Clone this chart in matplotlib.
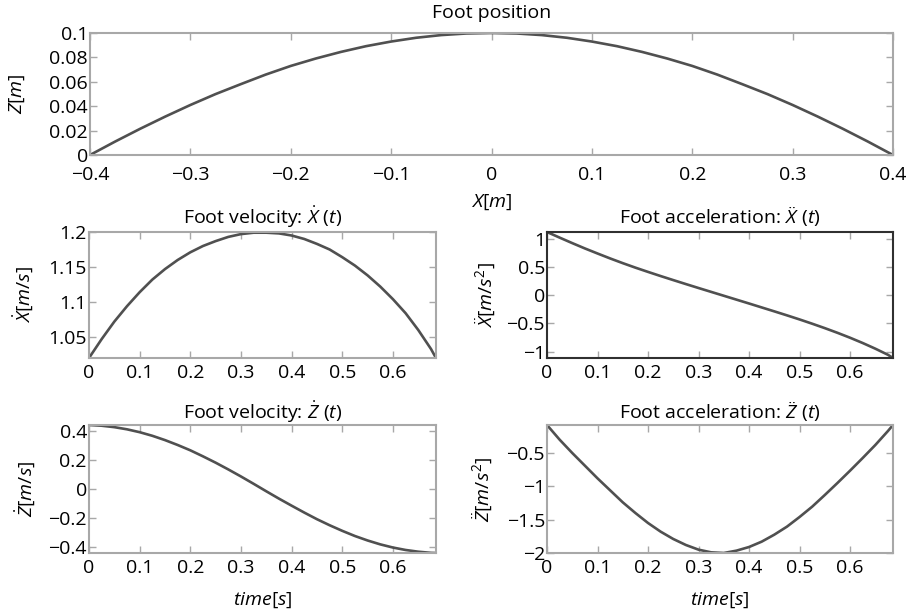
import matplotlib
matplotlib.use("Agg")
import matplotlib.pyplot as plt
from matplotlib.ticker import FuncFormatter

plt.rcParams['font.family'] = ['Open Sans', 'DejaVu Sans']
plt.rcParams['mathtext.fontset'] = 'custom'
plt.rcParams['mathtext.rm'] = 'Open Sans'
plt.rcParams['mathtext.it'] = 'Open Sans:italic'
plt.rcParams['mathtext.bf'] = 'Open Sans:bold'

# ---- data ----
pos_x = [-0.4, -0.375, -0.35, -0.325, -0.3, -0.275, -0.25, -0.225, -0.2, -0.175, -0.15,
         -0.125, -0.1, -0.075, -0.05, -0.025, 0.0, 0.025, 0.05, 0.075, 0.1, 0.125, 0.15,
         0.175, 0.2, 0.225, 0.25, 0.275, 0.3, 0.325, 0.35, 0.375, 0.4]
pos_z = [0.0, 0.011, 0.0215, 0.0315, 0.041, 0.0499, 0.058, 0.0659, 0.073, 0.0791, 0.0845,
         0.0892, 0.093, 0.0961, 0.0983, 0.0996, 0.1, 0.0996, 0.0983, 0.0961, 0.093, 0.0892, 0.0845,
         0.0791, 0.073, 0.0659, 0.058, 0.0499, 0.041, 0.0315, 0.0215, 0.011, 0.0]

time = [0, 0.025, 0.05, 0.075, 0.1, 0.125, 0.15, 0.175, 0.2, 0.225, 0.25, 0.275, 0.3,
        0.325, 0.35, 0.375, 0.4, 0.425, 0.45, 0.475, 0.5, 0.525, 0.55, 0.575, 0.6, 0.625,
        0.65, 0.675, 0.685]
x_vel = [1.020, 1.047, 1.072, 1.094, 1.114, 1.132, 1.147, 1.160, 1.171, 1.180, 1.187,
         1.193, 1.197, 1.199, 1.199, 1.198, 1.195, 1.190, 1.183, 1.175, 1.164, 1.152,
         1.138, 1.122, 1.104, 1.084, 1.060, 1.033, 1.020]
x_acc = [1.13, 1.03, 0.932, 0.837, 0.747, 0.659, 0.575, 0.495, 0.419, 0.345, 0.273,
         0.202, 0.132, 0.063, -0.006, -0.075, -0.144, -0.214, -0.284, -0.355, -0.428,
         -0.504, -0.583, -0.666, -0.754, -0.848, -0.949, -1.058, -1.115]
z_vel = [0.445, 0.440, 0.430, 0.415, 0.395, 0.370, 0.340, 0.306, 0.269, 0.227, 0.183,
         0.136, 0.087, 0.036, -0.016, -0.067, -0.116, -0.164, -0.210, -0.252, -0.291,
         -0.327, -0.358, -0.385, -0.407, -0.424, -0.436, -0.444, -0.445]
z_acc = [-0.08, -0.30, -0.50, -0.69, -0.88, -1.06, -1.24, -1.40, -1.55, -1.68, -1.79,
         -1.88, -1.95, -1.99, -2.0, -1.965, -1.91, -1.83, -1.725, -1.605, -1.46, -1.305,
         -1.13, -0.95, -0.765, -0.575, -0.38, -0.17, -0.08]

pos_xticks = [-0.4, -0.3, -0.2, -0.1, 0, 0.1, 0.2, 0.3, 0.4]
pos_yticks = [0, 0.02, 0.04, 0.06, 0.08, 0.1]
t_ticks = [0, 0.1, 0.2, 0.3, 0.4, 0.5, 0.6]
xvel_ticks = [1.05, 1.1, 1.15, 1.2]
xacc_ticks = [-1, -0.5, 0, 0.5, 1]
zvel_ticks = [-0.4, -0.2, 0, 0.2, 0.4]
zacc_ticks = [-2, -1.5, -1, -0.5]

LINE = '#505050'
SPINE = '#a8a8a8'
FS = 14

fmt = FuncFormatter(lambda v, p: ('%g' % round(v, 6)).replace('-', '\u2212'))

W, H = 908, 614
fig = plt.figure(figsize=(W / 100, H / 100), dpi=100)

def box(l, r, t, b):
    return [l / W, 1 - b / H, (r - l) / W, (b - t) / H]

def style(ax, spine_color=SPINE, xpad=4):
    for s in ax.spines.values():
        s.set_color(spine_color)
        s.set_linewidth(1.5)
    ax.tick_params(direction='in', top=True, right=True, length=5, width=1,
                   color=SPINE, labelsize=FS)
    ax.tick_params(axis='x', pad=xpad)
    ax.tick_params(axis='y', pad=1.5)
    ax.xaxis.set_major_formatter(fmt)
    ax.yaxis.set_major_formatter(fmt)

def title(ax, text, y):
    ax.set_title(text, fontsize=FS, y=y, pad=0, va='center')

def ylab(ax, text, x):
    ax.set_ylabel(text, fontsize=FS)
    ax.yaxis.set_label_coords(x, 0.5)
    ax.yaxis.label.set_verticalalignment('center')

def xlab(ax, text, y):
    ax.set_xlabel(text, fontsize=FS)
    ax.xaxis.set_label_coords(0.5, y)
    ax.xaxis.label.set_verticalalignment('center')

ax0 = fig.add_axes(box(90, 893, 33, 155))
ax0.plot(pos_x, pos_z, color=LINE, lw=1.9)
ax0.set_xlim(pos_x[0], pos_x[-1])
ax0.set_ylim(0, 0.1)
ax0.set_xticks(pos_xticks)
ax0.set_yticks(pos_yticks)
style(ax0, xpad=8)
title(ax0, 'Foot position', 1.16)
xlab(ax0, r'$X$[$m$]', -0.385)
ylab(ax0, r'$Z$[$m$]', -0.091)

ax1 = fig.add_axes(box(89, 436, 232, 358))
ax1.plot(time, x_vel, color=LINE, lw=1.9)
ax1.set_xlim(0, time[-1])
ax1.set_ylim(1.02, 1.2)
ax1.set_xticks(t_ticks)
ax1.set_yticks(xvel_ticks)
style(ax1)
title(ax1, r'Foot velocity: $\dot{X}\ (t)$', 1.12)
ylab(ax1, r'$\dot{X}$[$m/s$]', -0.19)

ax2 = fig.add_axes(box(547, 893, 232, 358))
ax2.plot(time, x_acc, color=LINE, lw=1.9)
ax2.set_xlim(0, time[-1])
ax2.set_ylim(-1.115, 1.13)
ax2.set_xticks(t_ticks)
ax2.set_yticks(xacc_ticks)
style(ax2, '#303030')
title(ax2, r'Foot acceleration: $\ddot{X}\ (t)$', 1.12)
ylab(ax2, r'$\ddot{X}$[$m/s^2$]', -0.18)

ax3 = fig.add_axes(box(89, 436, 425, 553))
ax3.plot(time, z_vel, color=LINE, lw=1.9)
ax3.set_xlim(0, time[-1])
ax3.set_ylim(-0.445, 0.445)
ax3.set_xticks(t_ticks)
ax3.set_yticks(zvel_ticks)
style(ax3)
title(ax3, r'Foot velocity: $\dot{Z}\ (t)$', 1.10)
ylab(ax3, r'$\dot{Z}$[$m/s$]', -0.184)
xlab(ax3, r'$time$[$s$]', -0.367)

ax4 = fig.add_axes(box(547, 893, 425, 553))
ax4.plot(time, z_acc, color=LINE, lw=1.9)
ax4.set_xlim(0, time[-1])
ax4.set_ylim(-2, -0.08)
ax4.set_xticks(t_ticks)
ax4.set_yticks(zacc_ticks)
style(ax4)
title(ax4, r'Foot acceleration: $\ddot{Z}\ (t)$', 1.10)
ylab(ax4, r'$\ddot{Z}$[$m/s^2$]', -0.188)
xlab(ax4, r'$time$[$s$]', -0.367)

fig.savefig('out.png', dpi=100, facecolor='white')
